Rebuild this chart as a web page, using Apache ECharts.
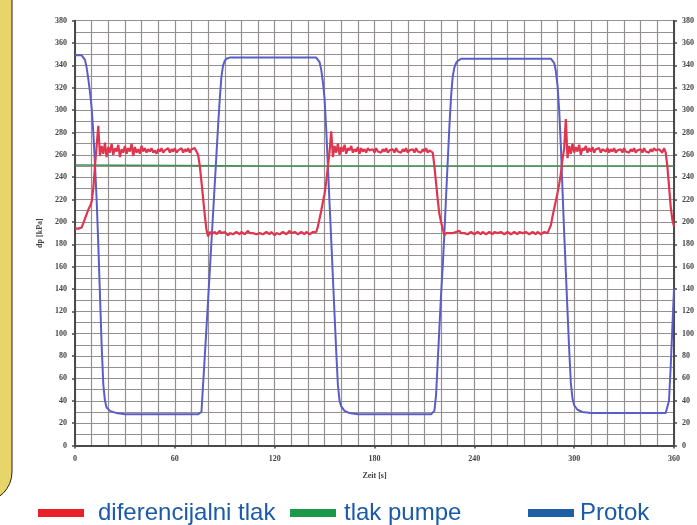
<!DOCTYPE html>
<html>
<head>
<meta charset="utf-8">
<script src="https://cdn.jsdelivr.net/npm/echarts@6/dist/echarts.min.js"></script>
<style>
html,body{margin:0;padding:0;background:#fff;}
#c{width:697px;height:525px;}
</style>
</head>
<body>
<div id="c"></div>
<script>
// ---- tick labels / axis ranges ----
const xTicks = [0, 60, 120, 180, 240, 300, 360];
const yMax = 380;

// ---- diferencijalni tlak (red), segments: start second + one value per second ----
const redRise1Start = 0;
const redRise1 = [194,194,194,195,195,199,203,207,211,214,218,230,250,268,286];
const redHigh1Start = 15;
const redHigh1 = [259,268,261,271,258,267,262,270,260,266,
                  263,269,258,265,262,268,261,266,263,270,
                  259,267,262,265,261,268,263,266,262,265,
                  263,266,262,264,261,265,263,266,262,264,
                  263,266,262,265,263,266,262,264,263,266,
                  262,265,263,266,262,265,264,266];
const redDrop1Start = 73;
const redDrop1 = [263,260,250,236,221,206,193,187,191,189];
const redLow1Start = 83;
const redLow1 = [190,191,189,190,192,190,189,191,190,188,
                 190,191,189,190,191,190,189,191,190,189,
                 190,192,190,189,190,191,189,190,190,191,
                 189,190,191,190,189,191,190,188,190,191,
                 189,190,191,190,189,190,192,190,189,191,
                 190,189,190,191,190,189,191,190,189,190,
                 191,190,191];
const redRise2Start = 146;
const redRise2 = [196,203,210,218,225,236,250,263,281];
const redHigh2Start = 155;
const redHigh2 = [258,268,262,270,260,267,263,269,261,266,
                  264,268,262,265,263,267,261,266,263,265,
                  262,266,264,263,265,262,266,263,264,262,
                  265,263,266,262,264,263,265,262,266,263,
                  264,262,265,263,266,262,264,263,265,262,
                  266,263,264,262,265,263,266,262,264,263];
const redDrop2Start = 215;
const redDrop2 = [262,250,235,220,207,200,194,188,190];
const redLow2Start = 224;
const redLow2 = [189,190,191,190,189,191,190,192,190,189,
                 190,191,189,190,191,190,189,190,191,190,
                 189,191,190,189,190,191,190,189,191,190,
                 190,189,191,190,189,190,191,190,189,190,
                 191,190,189,191,190,190,189,191,190,189,
                 190,191,190,189,191,190,189,190,191,190,
                 190,191];
const redRise3Start = 286;
const redRise3 = [197,205,212,219,226,234,243,256,266,292];
const redHigh3Start = 296;
const redHigh3 = [257,268,261,270,262,267,263,269,260,266,
                  264,268,262,266,263,267,262,265,264,266,
                  262,265,264,263,266,262,265,263,266,262,
                  264,263,265,262,266,263,264,262,265,263,
                  266,262,264,263,265,262,266,263,264,262,
                  265,263,266,264,263,265,264,262,266];
const redDrop3Start = 355;
const redDrop3 = [262,250,232,214,202,196];

// ---- tlak pumpe (green) ----
const greenT = [0, 120, 240, 360];
const greenV = [251, 250, 250, 250];

// ---- Protok (blue) ----
const blueT = [0,4,5,6,7,8,9,10,11,12,13,14,15,16,17,18,19,21,25,30,50,74,
  75,76,77,78,79,80,81,82,83,84,85,86,87,88,89,90,91,93,120,145,
  146,147,148,149,150,151,152,153,154,155,156,157,158,159,160,162,165,170,200,214,
  215,216,217,218,219,220,221,222,223,224,225,226,227,228,229,230,232,260,286,
  287,288,289,290,291,292,293,294,295,296,297,298,299,300,302,305,310,340,355,
  356,357,358,359,360];
const blueV = [349,349,348,345,338,328,316,302,280,252,220,180,135,90,55,40,34,31,29,28,28,28,
  28,30,55,80,105,130,156,182,208,234,260,286,310,330,340,344,346,347,347,347,
  346,343,336,325,310,282,250,216,184,150,117,84,54,40,35,31,29,28,28,28,
  29,31,45,75,105,135,160,190,222,254,285,312,330,338,342,344,346,346,346,
  345,342,335,322,300,268,228,190,155,120,86,56,42,36,32,30,29,29,29,
  29,40,70,105,140];

// ---- build series data ----
function seg(start, vals) { return vals.map((v, i) => [start + i, v]); }
const redData = [].concat(
  seg(redRise1Start, redRise1), seg(redHigh1Start, redHigh1), seg(redDrop1Start, redDrop1),
  seg(redLow1Start, redLow1), seg(redRise2Start, redRise2), seg(redHigh2Start, redHigh2),
  seg(redDrop2Start, redDrop2), seg(redLow2Start, redLow2), seg(redRise3Start, redRise3),
  seg(redHigh3Start, redHigh3), seg(redDrop3Start, redDrop3));
const greenData = greenT.map((t, i) => [t, greenV[i]]);
const blueData = blueT.map((t, i) => [t, blueV[i]]);

const gridColor = '#958f8f';
const axisColor = '#4a4a4a';
const tickFont = { fontSize: 8, fontWeight: 'bold', fontFamily: 'Liberation Serif', color: '#444' };
const legendText = { fontSize: 24, color: '#1b5aa6', fontFamily: 'Liberation Sans' };

const chart = echarts.init(document.getElementById('c'), null, { renderer: 'canvas' });
chart.setOption({
  animation: false,
  backgroundColor: '#fff',
  grid: { left: 75, right: 18, top: 20.7, bottom: 79.5, containLabel: false },
  xAxis: {
    type: 'value', min: xTicks[0], max: xTicks[xTicks.length - 1], interval: 60,
    name: 'Zeit [s]', nameLocation: 'middle', nameGap: 26,
    nameTextStyle: tickFont,
    axisLine: { show: true, lineStyle: { color: axisColor, width: 2 } },
    axisTick: { show: true, length: 3, lineStyle: { color: axisColor, width: 1.5 } },
    axisLabel: Object.assign({ margin: 9 }, tickFont),
    splitLine: { show: true, lineStyle: { color: gridColor, width: 1.2 } },
    minorTick: { show: false, splitNumber: 6 },
    minorSplitLine: { show: true, lineStyle: { color: gridColor, width: 1.2 } }
  },
  yAxis: [{
    type: 'value', min: 0, max: yMax, interval: 20, position: 'left',
    name: 'dp [kPa]', nameLocation: 'middle', nameGap: 30, nameRotate: 90,
    nameTextStyle: tickFont,
    axisLine: { show: true, lineStyle: { color: axisColor, width: 2 } },
    axisTick: { show: true, length: 3, lineStyle: { color: axisColor, width: 1.5 } },
    axisLabel: Object.assign({ margin: 8 }, tickFont),
    splitLine: { show: true, lineStyle: { color: gridColor, width: 1.2 } },
    minorTick: { show: false, splitNumber: 2 },
    minorSplitLine: { show: true, lineStyle: { color: gridColor, width: 1.2 } }
  }, {
    type: 'value', min: 0, max: yMax, interval: 20, position: 'right',
    axisLine: { show: true, lineStyle: { color: axisColor, width: 2 } },
    axisTick: { show: true, length: 3, lineStyle: { color: axisColor, width: 1.5 } },
    axisLabel: Object.assign({ margin: 8 }, tickFont),
    splitLine: { show: false }
  }],
  legend: [
    { left: 38, top: 501, padding: 0, icon: 'rect', itemWidth: 46, itemHeight: 8,
      data: [{ name: 'diferencijalni tlak', itemStyle: { color: '#e8202a' } }],
      textStyle: Object.assign({ padding: [0, 0, 0, 9] }, legendText) },
    { left: 290, top: 501, padding: 0, icon: 'rect', itemWidth: 46, itemHeight: 8,
      data: [{ name: 'tlak pumpe', itemStyle: { color: '#1a9a48' } }],
      textStyle: Object.assign({ padding: [0, 0, 0, 3] }, legendText) },
    { left: 528, top: 501, padding: 0, icon: 'rect', itemWidth: 46, itemHeight: 8,
      data: [{ name: 'Protok', itemStyle: { color: '#1f5fa6' } }],
      textStyle: Object.assign({ padding: [0, 0, 0, 1] }, legendText) }
  ],
  graphic: [{
    type: 'rect', z: 100,
    shape: { x: -18, y: -20, width: 30, height: 522, r: [0, 0, 30, 0] },
    style: { fill: '#e8d56a', stroke: '#222', lineWidth: 1 }
  }],
  series: [
    { name: 'tlak pumpe', type: 'line', data: greenData, showSymbol: false, symbol: 'none',
      lineStyle: { color: '#3f8f55', width: 1.5 }, itemStyle: { color: '#3f8f55' }, z: 3 },
    { name: 'Protok', type: 'line', data: blueData, showSymbol: false, symbol: 'none',
      lineStyle: { color: '#5a5ec6', width: 2 }, itemStyle: { color: '#5a5ec6' }, z: 4 },
    { name: 'diferencijalni tlak', type: 'line', data: redData, showSymbol: false, symbol: 'none',
      lineStyle: { color: '#e0354f', width: 2.2 }, itemStyle: { color: '#e0354f' }, z: 5 }
  ]
});
</script>
</body>
</html>
